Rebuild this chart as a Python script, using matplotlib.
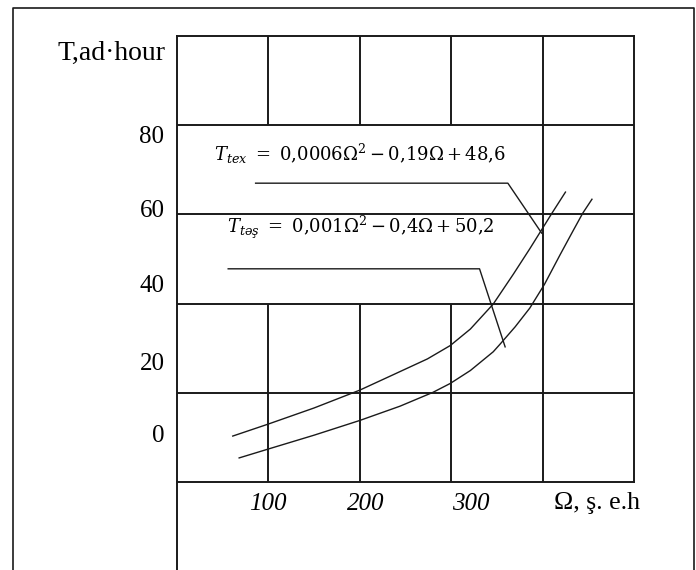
import matplotlib.pyplot as plt
from matplotlib.lines import Line2D

plt.rcParams['font.family'] = ['Liberation Serif', 'DejaVu Serif']
plt.rcParams['mathtext.fontset'] = 'dejavuserif'

# curve readings (Omega, T)
omega_tex = [61, 100, 150, 200, 236, 274, 299, 321, 346, 368, 386, 400, 410, 425]
t_tex = [10.3, 13.0, 16.6, 20.6, 24.0, 27.6, 30.6, 34.3, 39.9, 46.6, 52.3, 56.9, 60.2, 65.0]
omega_tas = [68, 100, 150, 200, 244, 280, 299, 321, 346, 353, 370, 386, 402, 419, 433, 444, 454]
t_tas = [5.4, 7.4, 10.5, 13.8, 17.0, 20.1, 22.1, 25.0, 29.2, 30.8, 34.8, 39.0, 44.3, 50.9, 56.2, 60.3, 63.4]

# leader lines from the formulas to the curves
lead_tex_x = [86, 362, 399]
lead_tex_y = [67.0, 67.0, 55.8]
lead_tas_x = [56, 331, 359]
lead_tas_y = [47.8, 47.8, 30.3]

ytick_pos = [78.0, 61.4, 44.4, 27.1, 10.8]
ytick_labels = ['80', '60', '40', '20', '0']
xtick_pos = [99, 207, 321]
xtick_labels = ['100', '200', '300']

eq_tex = r'$T_{tex}\ =\ 0{,}0006\Omega^2 - 0{,}19\Omega + 48{,}6$'
eq_tas = r'$T_{təş}\ =\ 0{,}001\Omega^2 - 0{,}4\Omega + 50{,}2$'

W, H = 696, 570
fig = plt.figure(figsize=(W / 100, H / 100), dpi=100)
ax = fig.add_axes([177 / W, (H - 482) / H, 457 / W, 446 / H])
ax.set_xlim(0, 500)
ax.set_ylim(0, 100)

ink = '#1a1a1a'
for s in ax.spines.values():
    s.set_color(ink)
    s.set_linewidth(1.4)

# grid, broken where the formulas sit
ax.hlines([20, 40, 60, 80], 0, 500, color=ink, lw=1.4)
ax.vlines([100, 200, 300], 80, 100, color=ink, lw=1.4)
ax.vlines([100, 200, 300], 0, 40, color=ink, lw=1.4)
ax.vlines([400], 0, 100, color=ink, lw=1.4)
ax.plot([0, 0], [-20, 0], color=ink, lw=1.4, clip_on=False)

ax.plot(omega_tex, t_tex, color=ink, lw=1.0)
ax.plot(omega_tas, t_tas, color=ink, lw=1.0)
ax.plot(lead_tex_x, lead_tex_y, color=ink, lw=1.0)
ax.plot(lead_tas_x, lead_tas_y, color=ink, lw=1.0)

ax.text(200, 73.5, eq_tex, fontsize=13, ha='center', va='center')
ax.text(201, 57.0, eq_tas, fontsize=13, ha='center', va='center')

ax.set_yticks(ytick_pos, ytick_labels, fontsize=18)
ax.set_xticks(xtick_pos, xtick_labels, fontsize=18, style='italic')
ax.tick_params(length=0)
ax.tick_params(axis='y', pad=9)
ax.tick_params(axis='x', pad=8)

ax.text(-12 / 0.914, 96.2, 'T,ad·hour', fontsize=20, ha='right', va='center')
ax.text(460, -4.6, 'Ω, ş. e.h', fontsize=18.5, ha='center', va='center')

# outer page frame, open at the bottom
fig.add_artist(Line2D([13 / W, 13 / W, 694 / W, 694 / W],
                      [0, 1 - 8 / H, 1 - 8 / H, 0],
                      color=ink, lw=1.2))

fig.savefig('out.png', dpi=100)
